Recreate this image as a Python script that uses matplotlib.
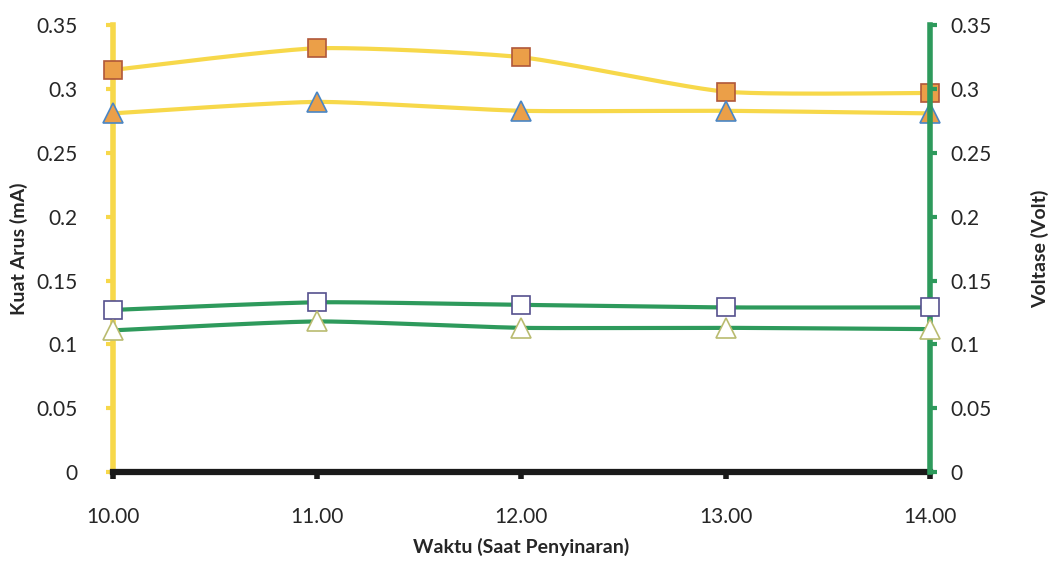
import numpy as np
import matplotlib
matplotlib.use("Agg")
import matplotlib.pyplot as plt

# ---- data ----
times = ["10.00", "11.00", "12.00", "13.00", "14.00"]
arus_a = [0.315, 0.332, 0.325, 0.298, 0.297]    # orange squares (mA)
arus_b = [0.281, 0.290, 0.283, 0.283, 0.281]    # orange triangles (mA)
volt_a = [0.127, 0.133, 0.131, 0.129, 0.129]    # white squares (Volt)
volt_b = [0.111, 0.118, 0.113, 0.113, 0.112]    # white triangles (Volt)
yticks = [0, 0.05, 0.1, 0.15, 0.2, 0.25, 0.3, 0.35]
ytick_labels = ["0", "0.05", "0.1", "0.15", "0.2", "0.25", "0.3", "0.35"]

plt.rcParams['font.family'] = ['Lato', 'DejaVu Sans']

def smooth(x, y, n=40):
    # Catmull-Rom style smoothing of the drawn line (markers stay on data)
    x = np.asarray(x, float); y = np.asarray(y, float)
    P = np.column_stack([x, y])
    P = np.vstack([P[0], P, P[-1]])
    out = []
    for i in range(1, len(P) - 2):
        p0, p1, p2, p3 = P[i - 1], P[i], P[i + 1], P[i + 2]
        t = np.linspace(0, 1, n)[:, None]
        m1 = (p2 - p0) / 2 * 0.6
        m2 = (p3 - p1) / 2 * 0.6
        h00 = 2*t**3 - 3*t**2 + 1; h10 = t**3 - 2*t**2 + t
        h01 = -2*t**3 + 3*t**2; h11 = t**3 - t**2
        out.append(h00*p1 + h10*m1 + h01*p2 + h11*m2)
    c = np.vstack(out)
    return c[:, 0], c[:, 1]

YELLOW = "#F7D84A"
GREEN = "#2E9A5C"
ORANGE = "#EB9F48"
TXT = "#262626"

fig = plt.figure(figsize=(10.53, 5.62), dpi=100)
ax = fig.add_axes([0.107, 0.16, 0.776, 0.795])
ax2 = ax.twinx()
x = np.arange(len(times))

# yellow lines on left axis
for vals, mk, ec, ms in [(arus_a, "s", "#B0583A", 13), (arus_b, "^", "#4A86C5", 15)]:
    sx, sy = smooth(x, vals)
    ax.plot(sx, sy, color=YELLOW, lw=3, zorder=3, clip_on=False)
    ax.plot(x, vals, ls="none", marker=mk, ms=ms, mfc=ORANGE, mec=ec, mew=1.2,
            zorder=4, clip_on=False)

# green lines on right axis
for vals, mk, ec, ms in [(volt_a, "s", "#55508E", 13), (volt_b, "^", "#B9BB70", 15)]:
    sx, sy = smooth(x, vals)
    ax2.plot(sx, sy, color=GREEN, lw=3, zorder=3, clip_on=False)
    ax2.plot(x, vals, ls="none", marker=mk, ms=ms, mfc="white", mec=ec, mew=1.2,
             zorder=4, clip_on=False)

for a in (ax, ax2):
    a.set_xlim(0, len(times) - 1)
    a.set_ylim(0, 0.35)
    a.set_yticks(yticks)
    a.set_yticklabels(ytick_labels)
    a.spines["top"].set_visible(False)

ax.spines["right"].set_visible(False)
ax2.spines["left"].set_visible(False)
ax2.spines["bottom"].set_visible(False)
ax.spines["left"].set_color(YELLOW)
ax.spines["left"].set_linewidth(4)
ax2.spines["right"].set_color(GREEN)
ax2.spines["right"].set_linewidth(4)
ax.spines["bottom"].set_color("#1a1a1a")
ax.spines["bottom"].set_linewidth(4.5)
ax.spines["bottom"].set_zorder(5)

ax.tick_params(axis="y", colors=YELLOW, length=5, width=3, labelcolor=TXT,
               labelsize=15, pad=20)
ax2.tick_params(axis="y", colors=GREEN, length=5, width=3, labelcolor=TXT,
                labelsize=15, pad=10)
ax.set_xticks(x)
ax.set_xticklabels(times)
ax.tick_params(axis="x", colors="#1a1a1a", length=5, width=4, labelcolor=TXT,
               labelsize=15, pad=20)

ax.set_ylabel("Kuat Arus (mA)", fontsize=14, fontweight="bold", color=TXT, labelpad=6)
ax2.set_ylabel("Voltase (Volt)", fontsize=14, fontweight="bold", color=TXT, labelpad=28)
ax.set_xlabel("Waktu (Saat Penyinaran)", fontsize=14, fontweight="bold", color=TXT,
              labelpad=8)

fig.savefig("out.png", dpi=100)
